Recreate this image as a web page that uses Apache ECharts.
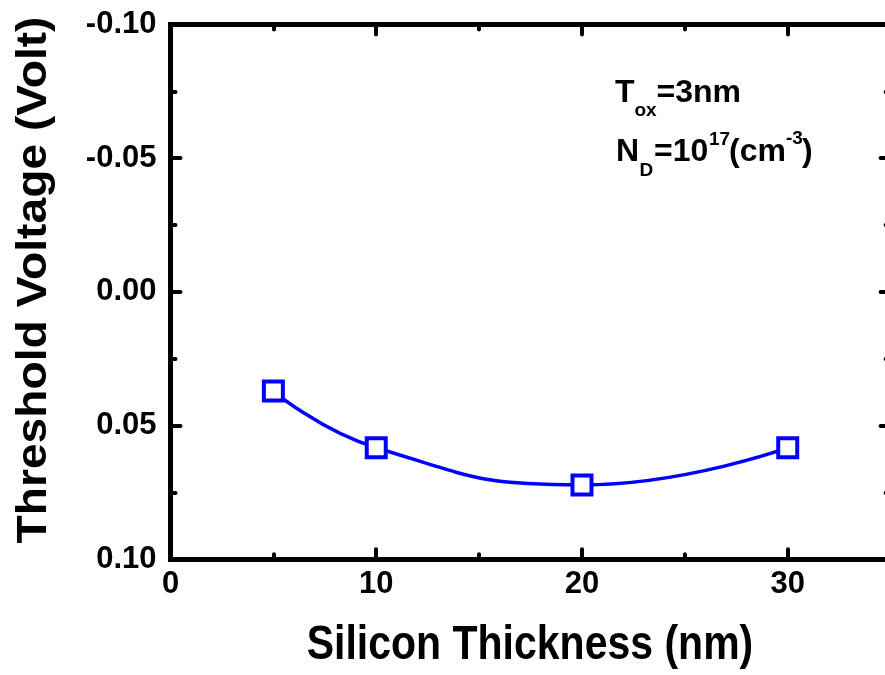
<!DOCTYPE html>
<html>
<head>
<meta charset="utf-8">
<script src="https://cdn.jsdelivr.net/npm/echarts@6/dist/echarts.min.js"></script>
<style>
html,body{margin:0;padding:0;background:#fff;overflow:hidden;width:885px;height:675px;}
#chart{width:900px;height:675px;}
</style>
</head>
<body>
<div id="chart"></div>
<script>
// Data
var thickness = [5, 10, 20, 30];                 // Silicon Thickness (nm)
var thresholdV = [0.0371, 0.0583, 0.0722, 0.0583]; // Threshold Voltage (Volt)

// Tick values
var xMajorTicks = [0, 10, 20, 30];
var xMinorTicks = [5, 15, 25];
var yMajorTicks = [-0.10, -0.05, 0.00, 0.05, 0.10];
var yMinorTicks = [-0.075, -0.025, 0.025, 0.075];

var xTitle = 'Silicon Thickness (nm)';
var yTitle = 'Threshold Voltage (Volt)';

var FONT = '"Liberation Sans", Arial, sans-serif';
var chart = echarts.init(document.getElementById('chart'));

function xAx(pos, ticks, len, showLine, showLabel) {
  return {
    type: 'value', position: pos, min: 0, max: 35,
    splitLine: {show: false},
    axisLine: {show: showLine, onZero: false, lineStyle: {color: '#000', width: 5, cap: 'square'}},
    axisTick: {show: true, inside: true, length: len, customValues: ticks,
               lineStyle: {color: '#000', width: 4, cap: 'round'}},
    axisLabel: {show: showLabel, customValues: ticks, margin: 10,
                fontFamily: FONT, fontWeight: 'bold', fontSize: 31, color: '#000'}
  };
}
function yAx(pos, ticks, len, showLine, showLabel) {
  return {
    type: 'value', position: pos, min: -0.10, max: 0.10, inverse: true,
    splitLine: {show: false},
    axisLine: {show: showLine, onZero: false, lineStyle: {color: '#000', width: 5, cap: 'square'}},
    axisTick: {show: true, inside: true, length: len, customValues: ticks,
               lineStyle: {color: '#000', width: 4, cap: 'round'}},
    axisLabel: {show: showLabel, customValues: ticks, margin: 14,
                fontFamily: FONT, fontWeight: 'bold', fontSize: 31, color: '#000',
                formatter: function (v) { return (Math.abs(v) < 1e-9 ? 0 : v).toFixed(2); }}
  };
}

function txt(s, x, yMid, size) {
  return {type: 'text', x: x, y: yMid, style: {text: s, font: 'bold ' + size + 'px ' + FONT, fill: '#000', verticalAlign: 'middle'}};
}

var option = {
  backgroundColor: '#fff',
  animation: false,
  grid: {left: 170.5, right: 9.4, top: 24.5, bottom: 115.8, containLabel: false},
  xAxis: [
    xAx('bottom', xMajorTicks, 10, true, true),
    xAx('bottom', xMinorTicks, 5, false, false),
    xAx('top', xMajorTicks, 10, true, false),
    xAx('top', xMinorTicks, 5, false, false)
  ],
  yAxis: [
    yAx('left', yMajorTicks, 10, true, true),
    yAx('left', yMinorTicks, 5, false, false),
    yAx('right', yMajorTicks, 10, true, false),
    yAx('right', yMinorTicks, 5, false, false)
  ],
  series: [{
    type: 'line',
    xAxisIndex: 0, yAxisIndex: 0,
    data: thickness.map(function (x, i) { return [x, thresholdV[i]]; }),
    smooth: 0.5,
    symbol: 'rect', symbolSize: 19,
    lineStyle: {color: '#0000ff', width: 3.5},
    itemStyle: {color: '#ffffff', borderColor: '#0000ff', borderWidth: 4},
    z: 5
  }],
  graphic: [
    {type: 'text', x: 530, y: 646, scaleY: 1.15, style: {text: xTitle, font: 'bold 41px ' + FONT, fill: '#000', align: 'center', verticalAlign: 'middle'}},
    {type: 'text', x: 34, y: 280, rotation: Math.PI / 2, scaleX: 1.1, style: {text: yTitle, font: 'bold 42px ' + FONT, fill: '#000', align: 'center', verticalAlign: 'middle'}},
    // T_ox = 3nm
    txt('T', 615, 93, 32),
    txt('ox', 634.5, 110.5, 19),
    txt('=3nm', 656.5, 93, 32),
    // N_D = 10^17 (cm^-3)
    txt('N', 616, 152, 32),
    txt('D', 639.5, 170.5, 19),
    txt('=10', 654, 152, 32),
    txt('17', 709, 139.5, 19),
    txt('(cm', 729, 152, 32),
    txt('-3', 786, 138.5, 19),
    txt(')', 802, 152, 32)
  ]
};
chart.setOption(option);
</script>
</body>
</html>
